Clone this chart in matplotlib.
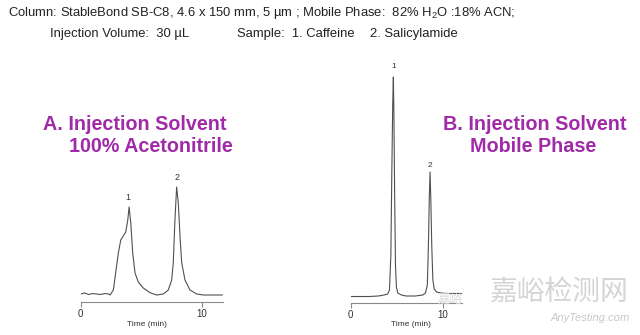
import matplotlib
matplotlib.use("Agg")
import matplotlib.pyplot as plt

plt.rcParams['font.family'] = ['Liberation Sans', 'DejaVu Sans']

# Chromatogram A: injection solvent 100% acetonitrile (time in min, signal arbitrary)
time_a = [0.0, 0.33, 0.66, 1.0, 1.3, 1.65, 2.0, 2.3, 2.43, 2.70, 2.92, 3.11, 3.31,
          3.47, 3.72, 3.89, 4.0, 4.14, 4.30, 4.49, 4.76, 5.17, 5.73, 6.28, 6.83,
          7.24, 7.52, 7.65, 7.79, 7.93, 8.07, 8.21, 8.35, 8.62, 9.03, 9.59, 10.14,
          11.52, 11.7]
signal_a = [0, 1, -0.5, 0.5, 0, -0.5, 0.5, 0, -1, 4, 24, 41, 54,
            57, 62, 74, 87, 71, 41, 21, 12, 6, 1.3, -1, 0,
            4, 14, 31, 74, 107, 91, 57, 31, 14, 4, 0, -1,
            -1, -1]

# Chromatogram B: injection solvent mobile phase
time_b = [0.0, 1.0, 2.0, 3.0, 3.6, 4.0, 4.2, 4.35, 4.45, 4.55, 4.62, 4.68, 4.76,
          4.85, 4.95, 5.1, 5.5, 6.0, 7.0, 7.8, 8.1, 8.3, 8.42, 8.52, 8.6, 8.68,
          8.78, 8.9, 9.05, 9.3, 9.8, 10.5, 11.5, 12.0]
signal_b = [-1.5, -1.5, -1.5, -1, 0, 1, 5, 40, 120, 190, 218, 180, 100,
            30, 8, 2, 0, -1, -1, 0, 2, 10, 50, 100, 123, 95,
            50, 15, 6, 3, 2, 1.5, 1.5, 1.5]

peak_labels = ['1', '2']
peaks_a = [(3.92, 97), (7.96, 117)]
peaks_b = [(4.63, 228), (8.6, 130)]
xticks = [0, 10]

purple = '#A02AA8'
trace_col = '#505050'
axis_col = '#8a8a8a'

fig = plt.figure(figsize=(6.4, 3.35), dpi=100)


def setup(ax, xmax, ylo, yhi):
    ax.set_xlim(0, xmax)
    ax.set_ylim(ylo, yhi)
    for s in ['left', 'right', 'top']:
        ax.spines[s].set_visible(False)
    ax.spines['bottom'].set_color(axis_col)
    ax.spines['bottom'].set_linewidth(0.8)
    ax.set_xticks(xticks)
    ax.set_yticks([])
    ax.tick_params(axis='x', length=3.6, width=0.8, colors=axis_col,
                   labelcolor='#333333', labelsize=7, pad=2)
    ax.patch.set_alpha(0)


ax_a = fig.add_axes([0.1261, 0.0994, 0.2223, 0.393])
setup(ax_a, 11.76, -7.7, 124)
ax_a.plot(time_a, signal_a, color=trace_col, lw=0.8)
for lab, (x, y) in zip(peak_labels, peaks_a):
    ax_a.text(x, y, lab, ha='center', va='center', fontsize=6.5, color='#333333')

ax_b = fig.add_axes([0.548, 0.0964, 0.1739, 0.7245])
setup(ax_b, 12.06, -7.7, 235)
ax_b.plot(time_b, signal_b, color=trace_col, lw=0.8)
for lab, (x, y) in zip(peak_labels, peaks_b):
    ax_b.text(x, y, lab, ha='center', va='center', fontsize=6, color='#333333')

# x labels
fig.text(147 / 640, 1 - 325 / 335, 'Time (min)', ha='center', va='center', fontsize=6, color='#333333')
fig.text(411 / 640, 1 - 324 / 335, 'Time (min)', ha='center', va='center', fontsize=6, color='#333333')

# header
hdr = dict(ha='left', va='center', fontsize=9.4, color='#222222')
fig.text(8 / 640, 1 - 13 / 335,
         r'Column: StableBond SB-C8, 4.6 x 150 mm, 5 µm ; Mobile Phase:  82% H$_\mathregular{2}$O :18% ACN;',
         **hdr)
fig.text(50 / 640, 1 - 34 / 335, 'Injection Volume:  30 µL', **hdr)
fig.text(237 / 640, 1 - 34 / 335, 'Sample:  1. Caffeine', **hdr)
fig.text(370 / 640, 1 - 34 / 335, '2. Salicylamide', **hdr)

# panel titles
ttl = dict(ha='left', va='center', fontsize=14.2, fontweight='bold', color=purple)
fig.text(43 / 640, 1 - 124 / 335, 'A. Injection Solvent', **ttl)
fig.text(69 / 640, 1 - 147 / 335, '100% Acetonitrile', **ttl)
fig.text(443 / 640, 1 - 124 / 335, 'B. Injection Solvent', **ttl)
fig.text(470 / 640, 1 - 147 / 335, 'Mobile Phase', **ttl)

# watermark
fig.text(490 / 640, 1 - 292 / 335, '嘉峪检测网', ha='left', va='center', fontsize=20,
         color='#d4d4d4', family=['Noto Sans CJK SC', 'DejaVu Sans'])
fig.text(437 / 640, 1 - 299 / 335, '嘉峪', ha='left', va='center', fontsize=9,
         color='#d8d8d8', family=['Noto Sans CJK SC', 'DejaVu Sans'])
fig.text(630 / 640, 1 - 318 / 335, 'AnyTesting.com', ha='right', va='center', fontsize=8,
         style='italic', color='#c8c8c8')

fig.savefig('out.png', dpi=100)
